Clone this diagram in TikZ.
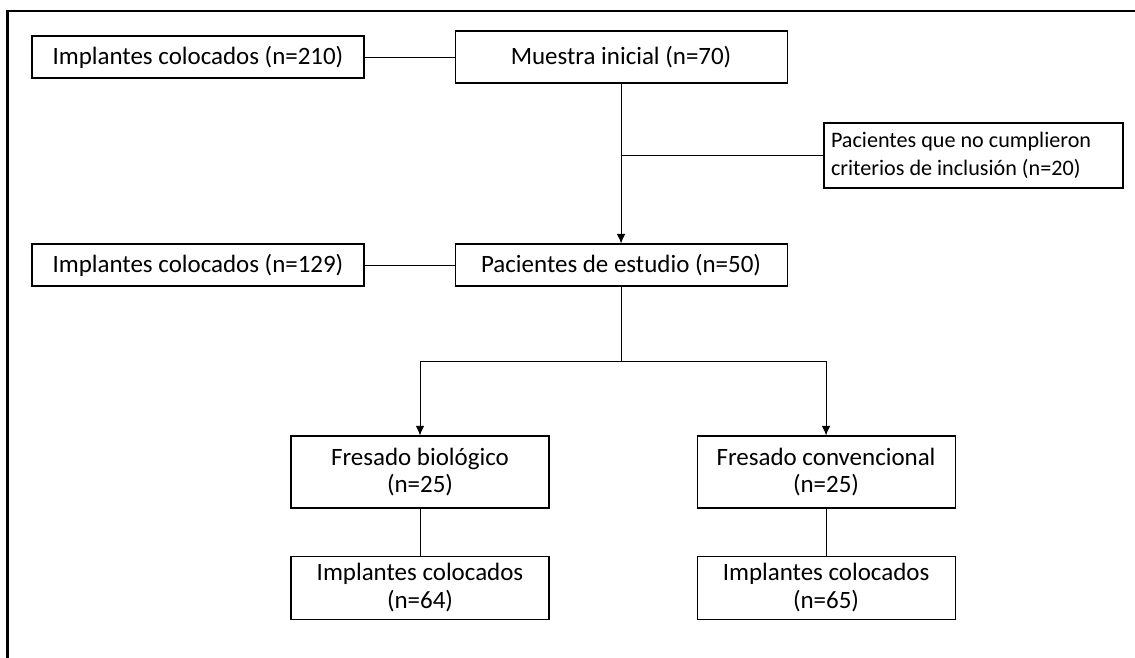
\documentclass[tikz,border=0pt]{standalone}
\usepackage{fontspec}
\setmainfont{Carlito}
\usepackage{tikz}
\usetikzlibrary{arrows.meta,positioning}

\tikzset{
  box/.style={rectangle, draw, line width=0.6pt, align=center, inner sep=2pt,
    font=\fontsize{14.2}{15.6}\selectfont},
  line/.style={line width=0.55pt},
}

\begin{document}
\begin{tikzpicture}[>={Latex[length=1.9mm,width=1.7mm]}]
    \useasboundingbox (0,0) rectangle (22.7,-13.14);

    % Frame
    \draw[line width=1.2pt] (0.15,-13.3) -- (0.15,-0.22) -- (22.9,-0.22);

    % Nodes
    \node[box, minimum width=6.64cm, minimum height=0.84cm] (impl210) at (3.96,-1.14) {Implantes colocados (n=210)};
    \node[box, minimum width=6.64cm, minimum height=1.04cm, right=1.8cm of impl210] (muestra) {Muestra inicial (n=70)};
    \node[box, minimum width=5.98cm, minimum height=1.3cm, align=flush left, text width=5.7cm,
      font=\fontsize{12.6}{15.8}\selectfont] (excluidos) at (19.47,-3.11) {Pacientes que no cumplieron\\criterios de inclusión (n=20)};
    \node[box, minimum width=6.64cm, minimum height=0.84cm] (impl129) at (3.96,-5.3) {Implantes colocados (n=129)};
    \node[box, minimum width=6.64cm, minimum height=0.84cm, right=1.8cm of impl129] (estudio) {Pacientes de estudio (n=50)};
    \node[box, minimum width=5.16cm, minimum height=1.44cm] (biologico) at (8.4,-9.44) {Fresado biológico\\(n=25)};
    \node[box, minimum width=5.16cm, minimum height=1.44cm, right=2.94cm of biologico] (convencional) {Fresado convencional\\(n=25)};
    \node[box, minimum width=5.16cm, minimum height=1.26cm, below=0.94cm of biologico] (impl64) {Implantes colocados\\(n=64)};
    \node[box, minimum width=5.16cm, minimum height=1.26cm, below=0.94cm of convencional] (impl65) {Implantes colocados\\(n=65)};

    % Connectors
    \draw[line] (impl210) -- (muestra);
    \draw[line, ->] (muestra) -- (estudio);
    \draw[line] (muestra.south |- excluidos.west) -- (excluidos.west);
    \draw[line] (impl129) -- (estudio);
    \draw[line] (estudio.south) -- ++(0,-1.5) coordinate (split);
    \draw[line, ->] (split) -| (biologico.north);
    \draw[line, ->] (split) -| (convencional.north);
    \draw[line] (biologico) -- (impl64);
    \draw[line] (convencional) -- (impl65);
\end{tikzpicture}
\end{document}
